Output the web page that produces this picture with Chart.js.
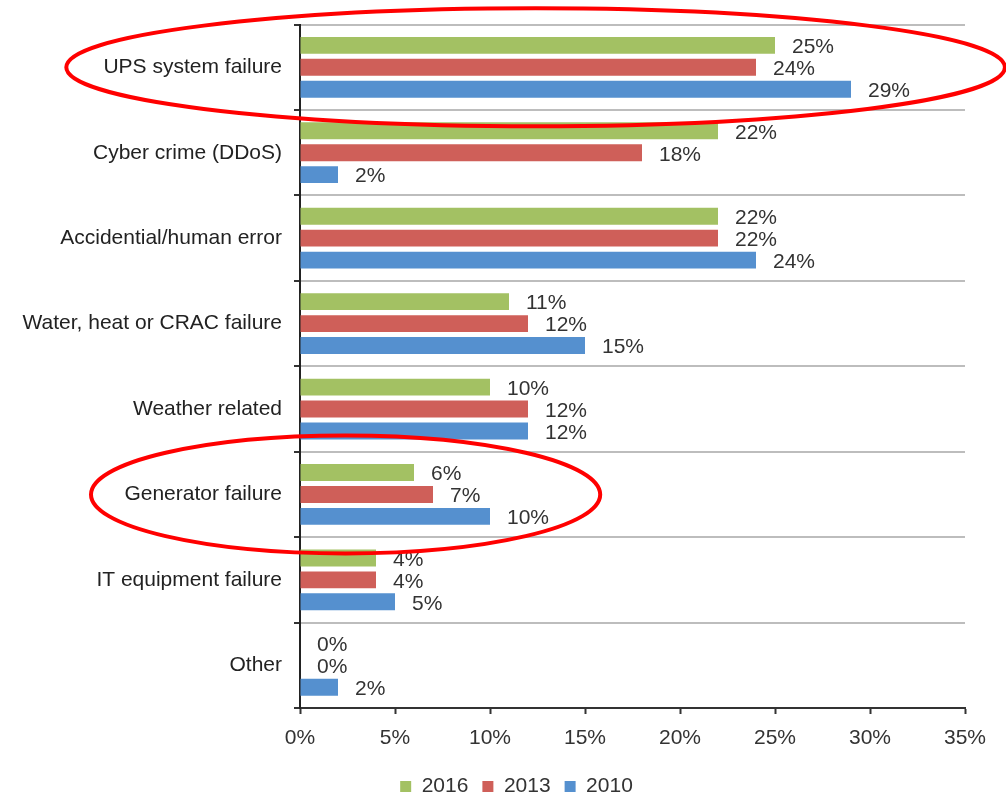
<!DOCTYPE html>
<html>
<head>
<meta charset="utf-8">
<title>Outage causes</title>
<script src="https://cdn.jsdelivr.net/npm/chart.js@4.4.1/dist/chart.umd.min.js"></script>
<style>
  html, body { margin: 0; padding: 0; background: #fff; }
  #wrap { width: 1006px; height: 798px; }
</style>
</head>
<body>
<div id="wrap"><canvas id="outage-chart" width="1006" height="798"></canvas></div>
<script>
// Root causes of unplanned outages, share of respondents per survey year
const categories = [
    'UPS system failure',
    'Cyber crime (DDoS)',
    'Accidential/human error',
    'Water, heat or CRAC failure',
    'Weather related',
    'Generator failure',
    'IT equipment failure',
    'Other'
];
const values2016 = [25, 22, 22, 11, 10, 6, 4, 0];
const values2013 = [24, 18, 22, 12, 12, 7, 4, 0];
const values2010 = [29, 2, 24, 15, 12, 10, 5, 2];
const xTicks = [0, 5, 10, 15, 20, 25, 30, 35];

// highlighted rows: category index, horizontal extent in axis units
const highlights = [
    { category: 0, from: -12.3, to: 37.1 },
    { category: 5, from: -11.0, to: 15.8 }
];

document.addEventListener('DOMContentLoaded', () => {
    Chart.defaults.font.family = "'Liberation Sans', Arial, sans-serif";
    Chart.defaults.font.size = 21;
    Chart.defaults.color = '#333';

    // value labels to the right of each bar
    const barLabels = {
        id: 'barLabels',
        afterDatasetsDraw(chart) {
            const ctx = chart.ctx;
            ctx.save();
            ctx.font = "21px 'Liberation Sans', Arial, sans-serif";
            ctx.fillStyle = '#333';
            ctx.textAlign = 'left';
            ctx.textBaseline = 'middle';
            chart.data.datasets.forEach((ds, i) => {
                chart.getDatasetMeta(i).data.forEach((bar, j) => {
                    ctx.fillText(ds.data[j] + '%', bar.x + 17, bar.y + 2);
                });
            });
            ctx.restore();
        }
    };

    // red ellipses around the highlighted rows
    const rowHighlights = {
        id: 'rowHighlights',
        afterDraw(chart) {
            const ctx = chart.ctx;
            const xs = chart.scales.x;
            const ys = chart.scales.y;
            const rowH = ys.getPixelForValue(1) - ys.getPixelForValue(0);
            ctx.save();
            ctx.strokeStyle = '#f00';
            ctx.lineWidth = 4;
            highlights.forEach(h => {
                const x1 = xs.getPixelForValue(h.from);
                const x2 = xs.getPixelForValue(h.to);
                const cy = ys.getPixelForValue(h.category);
                ctx.beginPath();
                ctx.ellipse((x1 + x2) / 2, cy, (x2 - x1) / 2, rowH * 0.69, 0, 0, Math.PI * 2);
                ctx.stroke();
            });
            ctx.restore();
        }
    };

    // nudge the legend a bit to the right of the canvas centre
    const legendShift = {
        id: 'legendShift',
        afterLayout(chart) {
            if (chart.legend) {
                chart.legend.left += 34;
                chart.legend.right += 34;
            }
        }
    };

    const ctx = document.getElementById('outage-chart').getContext('2d');
    new Chart(ctx, {
        type: 'bar',
        data: {
            labels: categories,
            datasets: [
                { label: '2016', data: values2016, backgroundColor: '#a3c163' },
                { label: '2013', data: values2013, backgroundColor: '#cf5f59' },
                { label: '2010', data: values2010, backgroundColor: '#5590cf' }
            ]
        },
        options: {
            indexAxis: 'y',
            responsive: false,
            animation: false,
            devicePixelRatio: 1,
            categoryPercentage: 0.77,
            barPercentage: 0.77,
            layout: { padding: { top: 22, right: 41, bottom: -9, left: 0 } },
            scales: {
                x: {
                    min: 0,
                    max: 35,
                    z: 1,
                    afterBuildTicks: (scale) => {
                        scale.ticks = xTicks.map(v => ({ value: v }));
                    },
                    afterFit: (scale) => { scale.height = 54; },
                    ticks: {
                        padding: 12,
                        callback: (v) => v + '%'
                    },
                    grid: {
                        drawOnChartArea: false,
                        drawTicks: true,
                        tickLength: 6,
                        tickColor: '#333',
                        tickWidth: 2
                    },
                    border: { color: '#333', width: 2 }
                },
                y: {
                    afterFit: (scale) => { scale.width = 300; },
                    ticks: { padding: 12, color: '#222' },
                    grid: {
                        color: '#bdbdbd',
                        lineWidth: 2,
                        tickColor: '#333',
                        tickLength: 6,
                        tickWidth: 2
                    },
                    border: { color: '#222', width: 2 }
                }
            },
            plugins: {
                legend: {
                    position: 'bottom',
                    labels: {
                        boxWidth: 11,
                        boxHeight: 11,
                        padding: 14,
                        color: '#333',
                        font: { size: 21 }
                    }
                },
                tooltip: { enabled: false }
            }
        },
        plugins: [barLabels, rowHighlights, legendShift]
    });
});
</script>
</body>
</html>
